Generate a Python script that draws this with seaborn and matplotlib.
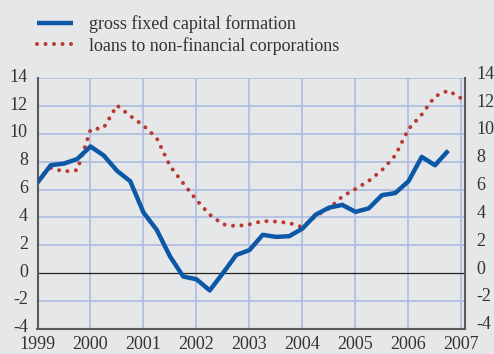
import numpy as np
import pandas as pd
import matplotlib
matplotlib.use("Agg")
import matplotlib.pyplot as plt
import matplotlib.transforms as mtransforms
import seaborn as sns

# Quarterly observations (annual percentage changes)
gfcf_time = [1999 + q / 4 for q in range(32)]
gfcf_values = [6.5, 7.75, 7.87, 8.2, 9.1, 8.45, 7.35, 6.6,
               4.35, 3.1, 1.2, -0.25, -0.45, -1.25, 0.0, 1.3,
               1.65, 2.75, 2.6, 2.65, 3.2, 4.2, 4.7, 4.9,
               4.4, 4.65, 5.6, 5.75, 6.6, 8.35, 7.75, 8.8]

loans_time = [1999 + q / 4 for q in range(33)]
loans_values = [6.8, 7.55, 7.3, 7.4, 10.3, 10.45, 12.05, 11.3,
                10.6, 9.7, 7.7, 6.45, 5.25, 4.2, 3.5, 3.37,
                3.5, 3.74, 3.7, 3.6, 3.3, 4.1, 4.65, 5.5,
                6.05, 6.62, 7.4, 8.45, 10.35, 11.4, 12.7, 13.12, 12.55]

year_ticks = list(range(1999, 2008))
value_ticks = list(range(-4, 15, 2))
series_labels = ["gross fixed capital formation",
                 "loans to non-financial corporations"]

BG = "#e6e7e9"
BLUE = "#0d58a6"
RED = "#b83a32"
GRID = "#adbbe0"
SPINE = "#5a5a5a"
TEXT = "#333333"

sns.set_theme(style="white")
plt.rcParams["font.family"] = ["Liberation Serif", "DejaVu Serif"]

fig = plt.figure(figsize=(4.94, 3.54), dpi=100, facecolor=BG)
ax = fig.add_axes([37.5 / 494, 1 - 328.7 / 354, (465 - 37.5) / 494, (328.7 - 78.3) / 354])
ax.set_facecolor(BG)

gfcf = pd.DataFrame({"t": gfcf_time, "v": gfcf_values})
loans = pd.DataFrame({"t": loans_time, "v": loans_values})

# grid
for yv in value_ticks:
    if yv == 0:
        continue
    ax.axhline(yv, color=GRID, lw=1.2, zorder=1)
for xv in year_ticks[1:]:
    ax.axvline(xv, color=GRID, lw=1.2, zorder=1)
ax.axhline(0, color="#222222", lw=0.9, zorder=2)

sns.lineplot(data=loans, x="t", y="v", ax=ax, color=RED, lw=2.9,
             linestyle=(0, (0.01, 2.1)), dash_capstyle="round",
             estimator=None, zorder=3)
sns.lineplot(data=gfcf, x="t", y="v", ax=ax, color=BLUE, lw=3.2,
             estimator=None, zorder=4, solid_capstyle="butt")

ax.set_xlim(1999, 2007 + 3.5 / 52.94)
ax.set_ylim(-4, 14)
ax.set_xticks(year_ticks)
ax.set_yticks(value_ticks)
ax.set_xticklabels([str(y) for y in year_ticks])
ax.set_yticklabels([str(v) for v in value_ticks])
ax.set_xlabel("")
ax.set_ylabel("")

ax.tick_params(axis="x", direction="out", length=2.5, width=1.2, color=SPINE,
               labelsize=13, pad=3, labelcolor=TEXT)
ax.tick_params(axis="y", length=0, labelsize=13, pad=7, labelcolor=TEXT,
               left=True, right=True, labelleft=True, labelright=True)

# value labels sit slightly above their grid lines
raise_labels = mtransforms.ScaledTranslation(0, 3 / 100, fig.dpi_scale_trans)
right_shift = mtransforms.ScaledTranslation(2 / 100, 3 / 100, fig.dpi_scale_trans)
for lbl in ax.yaxis.get_ticklabels():
    lbl.set_transform(lbl.get_transform() + raise_labels)
for tick in ax.yaxis.get_major_ticks():
    tick.label2.set_transform(tick.label2.get_transform() + right_shift)

for side in ["left", "right", "bottom"]:
    ax.spines[side].set_visible(True)
    ax.spines[side].set_color(SPINE)
    ax.spines[side].set_linewidth(1.5)
ax.spines["top"].set_visible(False)

# legend
handles = [plt.Line2D([], [], color=BLUE, lw=3.2, solid_capstyle="butt"),
           plt.Line2D([], [], color=RED, lw=2.9, linestyle=(0, (0.01, 2.1)),
                      dash_capstyle="round")]
fig.legend(handles, series_labels, loc="upper left",
           bbox_to_anchor=(30 / 494, 1 - 8 / 354), frameon=False,
           fontsize=13, handlelength=2.0, handletextpad=0.85,
           labelspacing=0.2, borderaxespad=0, labelcolor=TEXT)

fig.savefig("out.png", dpi=100, facecolor=BG)
